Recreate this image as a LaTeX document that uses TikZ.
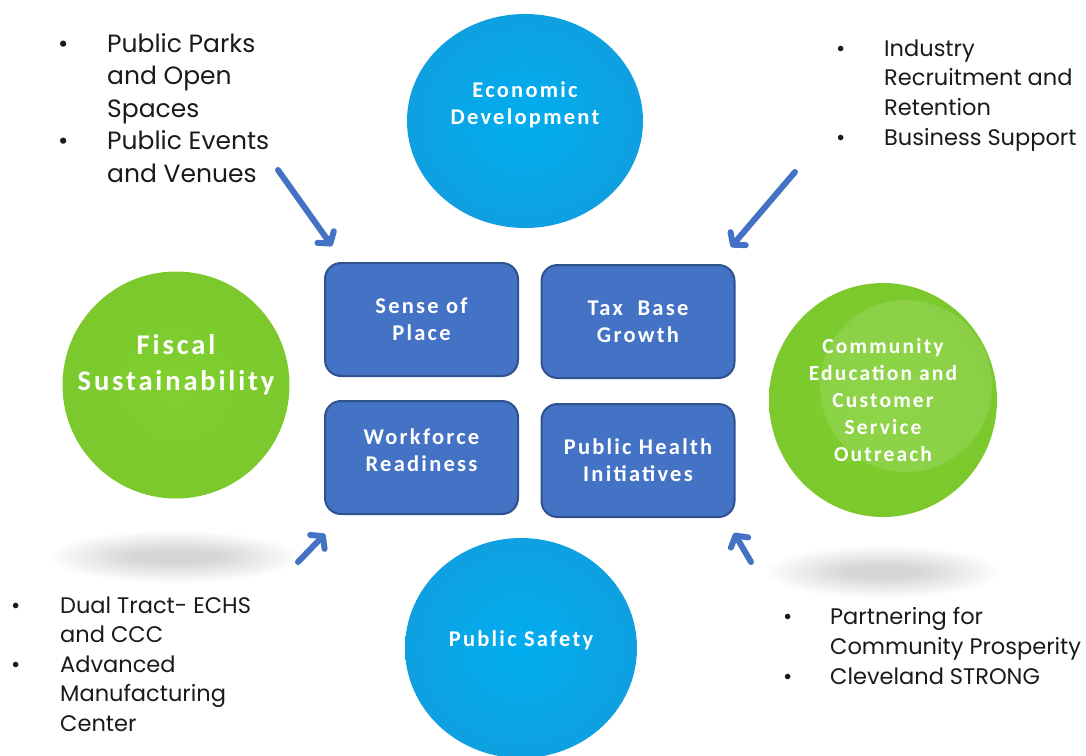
\documentclass[tikz,border=0pt]{standalone}
\usepackage{fontspec}
\setmainfont{Poppins}
\newfontfamily\tilefont[LetterSpace=10]{Carlito}
\usetikzlibrary{arrows.meta,positioning,shapes.geometric}

\definecolor{tilefill}{HTML}{4472C4}
\definecolor{tileedge}{HTML}{2F528F}
\definecolor{bluecore}{RGB}{0,174,239}
\definecolor{blueedge}{RGB}{40,136,200}
\definecolor{greencore}{RGB}{128,208,48}
\definecolor{greenedge}{RGB}{104,174,34}
\definecolor{listink}{HTML}{1A1A1A}

\pgfdeclareradialshading{bluebubble}{\pgfpointorigin}{color(0bp)=(bluecore);color(30bp)=(bluecore!55!blueedge);color(50bp)=(blueedge)}
\pgfdeclareradialshading{greenbubble}{\pgfpointorigin}{color(0bp)=(greencore);color(35bp)=(greencore!70!greenedge);color(50bp)=(greenedge)}

\begin{document}
\begin{tikzpicture}[x=1pt,y=-1pt]
\tikzset{
     tile/.style={draw=tileedge, line width=2pt, fill=tilefill, rounded corners=16pt,
        minimum width=193pt, minimum height=113pt, inner sep=0pt,
        text=white, align=center, font=\tilefont\bfseries\fontsize{22.5}{27}\selectfont},
     blueball/.style={ellipse, shading=bluebubble, inner sep=0pt},
     greenball/.style={ellipse, shading=greenbubble, inner sep=0pt},
     balltext/.style={text=white, align=center, font=\tilefont\bfseries\fontsize{22.5}{27}\selectfont},
     feed/.style={draw=tilefill, line width=6pt, line cap=round,
        -{Straight Barb[length=8pt, width=20pt, round]}},
     itemlist/.style={anchor=base west, inner sep=0pt, text=listink}}

\useasboundingbox (0,0) rectangle (1086,755);
\clip (0,0) rectangle (1086,755);

% soft shadows under the green balls
\foreach \i in {0,...,13}{
  \fill[black, opacity=0.012] (175,557) ellipse ({124-\i*6} and {26-\i*1.5});
  \fill[black, opacity=0.012] (883,572) ellipse ({116-\i*6} and {26-\i*1.5});
}

% The balls
\node (econ) [blueball, minimum width=236pt, minimum height=214pt] at (525,121) {};
\node (safety) [blueball, minimum width=232pt, minimum height=220pt] at (521,648) {};
\node (fiscal) [greenball, minimum size=227pt] at (176,385) {};
\node (community) [greenball, minimum width=228pt, minimum height=234pt] at (883,400) {};
\fill[white, opacity=0.12] (906,386) circle (86);

\node at ([yshift=16pt]econ.center) [balltext] {Economic\\Development};
\node at ([yshift=8pt]safety.center) [balltext] {Public Safety};
\node at ([yshift=20pt]fiscal.center) [balltext, font=\tilefont\bfseries\fontsize{28.5}{36}\selectfont] {Fiscal\\Sustainability};
\node at (community.center) [balltext, font=\tilefont\bfseries\fontsize{21.5}{27}\selectfont] {Community\\Education and\\Customer\\Service\\Outreach};

% The tiles
\node (place) [tile] at (421.5,319.5) {Sense of\\Place};
\node (taxbase) [tile] at (638,321.5) {Tax\ \ Base\\Growth};
\node (workforce) [tile] at (421.5,457.5) {};
\node (health) [tile] at (638,460.5) {Public Health\\Initiatives};
\node at ([yshift=7pt]workforce.center) [balltext] {Workforce\\Readiness};

% The lists
\node (parks) [itemlist] at (58,52) {\fontsize{25}{32.5}\selectfont
  \begin{tabular}[t]{@{}p{49pt}@{}l@{}}
  \textbullet & Public Parks\\ & and Open\\ & Spaces\\
  \textbullet & Public Events\\ & and Venues
  \end{tabular}};
\node (industry) [itemlist] at (836,56) {\fontsize{22.5}{29.7}\selectfont
  \begin{tabular}[t]{@{}p{48pt}@{}l@{}}
  \textbullet & Industry\\ & Recruitment and\\ & Retention\\
  \textbullet & Business Support
  \end{tabular}};
\node (dualtract) [itemlist] at (11,613) {\fontsize{22.5}{29.5}\selectfont
  \begin{tabular}[t]{@{}p{49pt}@{}l@{}}
  \textbullet & Dual Tract- ECHS\\ & and CCC\\
  \textbullet & Advanced\\ & Manufacturing\\ & Center
  \end{tabular}};
\node (prosperity) [itemlist] at (783,624) {\fontsize{22.5}{30}\selectfont
  \begin{tabular}[t]{@{}p{47pt}@{}l@{}}
  \textbullet & Partnering for\\ & Community Prosperity\\
  \textbullet & Cleveland STRONG
  \end{tabular}};

% The arrows
\coordinate (parkstail) at (278,170);
\coordinate (parkstip) at (332,246);
\coordinate (industrytail) at (795,172);
\coordinate (industrytip) at (731,247);
\coordinate (dualtail) at (298,562);
\coordinate (dualtip) at (325,534);
\coordinate (prosptail) at (751,562);
\coordinate (prosptip) at (734,533);
\draw [feed] (parkstail) -- (parkstip);
\draw [feed] (industrytail) -- (industrytip);
\draw [feed] (dualtail) -- (dualtip);
\draw [feed] (prosptail) -- (prosptip);
\end{tikzpicture}
\end{document}
